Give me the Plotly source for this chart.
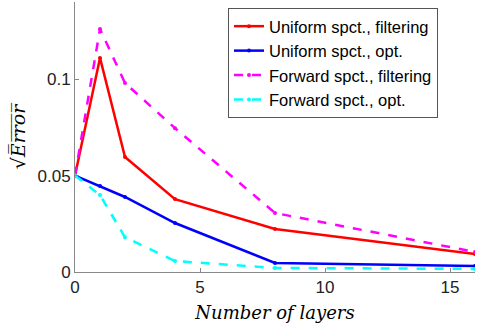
import plotly.graph_objects as go

# 데이터
layers = [0, 1, 2, 4, 8, 16]
uniform_filt = [0.050, 0.111, 0.0596, 0.0378, 0.0223, 0.0093]
uniform_opt = [0.050, 0.0446, 0.0389, 0.0254, 0.0047, 0.0031]
forward_filt = [0.050, 0.126, 0.098, 0.0746, 0.0306, 0.0104]
forward_opt = [0.050, 0.0399, 0.018, 0.0057, 0.0021, 0.0016]

series = [
    ('Uniform spct., filtering', uniform_filt, '#ff0000', 'solid'),
    ('Uniform spct., opt.', uniform_opt, '#0000ff', 'solid'),
    ('Forward spct., filtering', forward_filt, '#ff00ff', 'dash'),
    ('Forward spct., opt.', forward_opt, '#00ffff', 'dash'),
]

fig = go.Figure()
for name, vals, col, dash in series:
    fig.add_trace(go.Scatter(
        x=layers, y=vals, name=name, mode='lines+markers',
        line=dict(color=col, width=2.5, dash=dash),
        marker=dict(color=col, size=4),
    ))

axis_font = dict(family='Liberation Sans, Arial', size=17, color='#222')
fig.update_layout(
    width=480, height=324,
    margin=dict(l=75, r=5, t=2, b=52),
    plot_bgcolor='white',
    paper_bgcolor='white',
    font=axis_font,
    legend=dict(
        x=0.3825, y=0.978, xanchor='left', yanchor='top',
        bgcolor='white', bordercolor='#555', borderwidth=1,
        font=dict(family='Liberation Sans, Arial', size=16.5, color='#000'),
        itemwidth=30, tracegroupgap=0,
    ),
    xaxis=dict(
        range=[0, 16], tickvals=[0, 5, 10, 15],
        showline=True, linecolor='#888', linewidth=1,
        ticks='inside', ticklen=4, tickcolor='#888',
        showgrid=False, zeroline=False, automargin=False,
        title=dict(text='<i>Number of layers</i>',
                   font=dict(family='DejaVu Serif, serif', size=18, color='#000'),
                   standoff=9),
    ),
    yaxis=dict(
        range=[0, 0.14], tickvals=[0, 0.05, 0.1], ticktext=['0', '0.05', '0.1'],
        showline=True, linecolor='#888', linewidth=1,
        ticks='inside', ticklen=4, tickcolor='#888',
        showgrid=False, zeroline=False, automargin=False,
        title=dict(text='√<i>E̅r̅r̅o̅r̅</i>',
                   font=dict(family='DejaVu Serif, serif', size=19, color='#000'),
                   standoff=6),
    ),
)

# 페이지 기본 여백 제거
fig.write_html("out.html", config={'displayModeBar': False},
               post_script="document.body.style.margin='0';")
